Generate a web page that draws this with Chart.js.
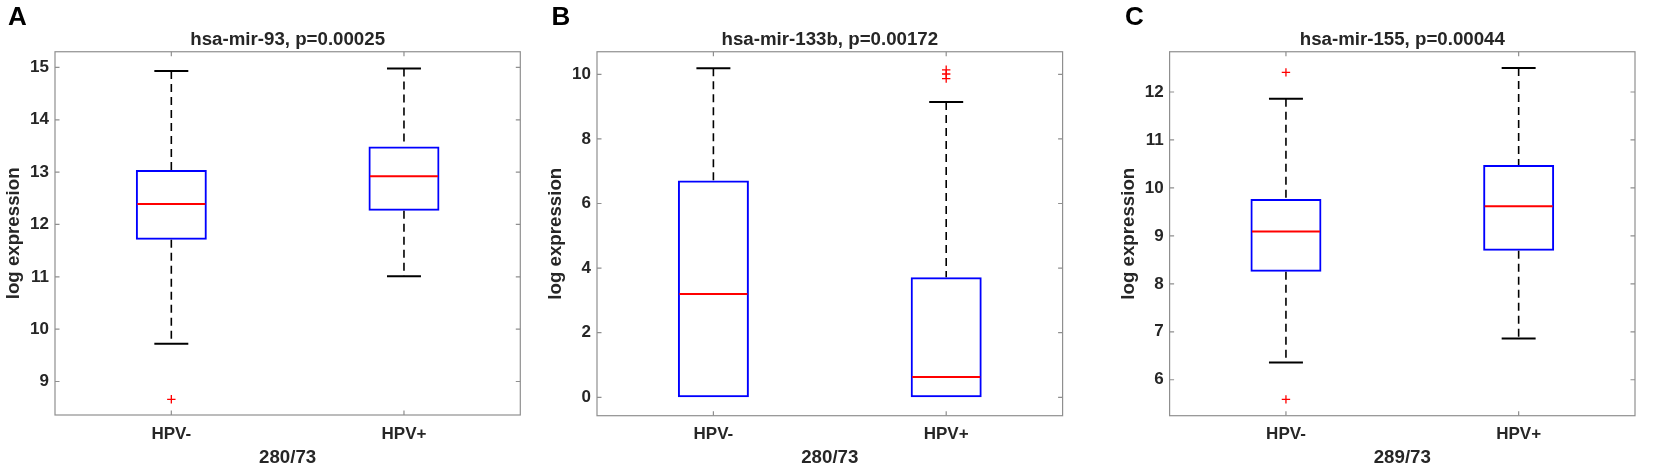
<!DOCTYPE html>
<html>
<head>
<meta charset="utf-8">
<script src="https://cdn.jsdelivr.net/npm/chart.js@4"></script>
<style>
  html, body { margin: 0; padding: 0; background: #ffffff; }
  #fig { position: relative; width: 1654px; height: 469px; overflow: hidden; background: #ffffff; }
  canvas { position: absolute; top: 0; }
  .letter { position: absolute; top: 3px; font-family: "Liberation Sans", Arial, Helvetica, sans-serif;
            font-weight: bold; font-size: 26px; line-height: 1; color: #000; }
</style>
</head>
<body>
<div id="fig"></div>
<script>
// ---------------- data ----------------
const categories = ['HPV-', 'HPV+'];
const panelLetters = ['A', 'B', 'C'];
const panelTitles = ['hsa-mir-93, p=0.00025', 'hsa-mir-133b, p=0.00172', 'hsa-mir-155, p=0.00044'];
const xAxisTitles = ['280/73', '280/73', '289/73'];
const yAxisTitle = 'log expression';
const yMins = [8.36, -0.57, 5.25];
const yMaxs = [15.30, 10.70, 12.84];
const yTickSteps = [1, 2, 1];

// box statistics per panel: [HPV-, HPV+]
const lowerWhiskers = [[9.72, 11.01], [0, 0], [6.36, 6.86]];
const q1s           = [[11.71, 12.26], [0, 0], [8.25, 8.69]];
const medians       = [[12.39, 12.92], [3.20, 0.63], [9.09, 9.62]];
const q3s           = [[13.04, 13.49], [6.71, 3.72], [9.77, 10.48]];
const upperWhiskers = [[14.93, 14.98], [10.19, 9.14], [11.86, 12.50]];
const outliersNeg   = [[8.66], [], [12.41, 5.59]];
const outliersPos   = [[], [10.14, 10.01, 9.87], []];

// ---------------- layout / style (not data) ----------------
const canvasLayout = [
  { left: 0,    width: 545, padL: 3,    padR: 24.7, xAxisH: 54.0 },
  { left: 545,  width: 545, padL: 0,    padR: 27.4, xAxisH: 53.3 },
  { left: 1090, width: 564, padL: 27.6, padR: 19.0, xAxisH: 53.3 }
];
const letterLeft = [8, 551.5, 1125];
const FONT = '"Liberation Sans", Arial, Helvetica, sans-serif';
const TEXT = '#262626';
const FRAME = '#8f8f8f';

Chart.defaults.font.family = FONT;
Chart.defaults.font.weight = 'bold';
Chart.defaults.color = TEXT;

const framePlugin = {
  id: 'matlabFrame',
  afterDatasetsDraw(chart) {
    const { ctx, chartArea: ca } = chart;
    const x = chart.scales.x, y = chart.scales.y;
    const tl = 4.5;
    ctx.save();
    ctx.strokeStyle = FRAME;
    ctx.lineWidth = 1.2;
    ctx.strokeRect(ca.left, ca.top, ca.right - ca.left, ca.bottom - ca.top);
    ctx.beginPath();
    y.ticks.forEach((t, k) => {
      const py = y.getPixelForTick(k);
      ctx.moveTo(ca.left, py); ctx.lineTo(ca.left + tl, py);
      ctx.moveTo(ca.right, py); ctx.lineTo(ca.right - tl, py);
    });
    x.ticks.forEach((t, k) => {
      const px = x.getPixelForTick(k);
      ctx.moveTo(px, ca.bottom); ctx.lineTo(px, ca.bottom - tl);
      ctx.moveTo(px, ca.top); ctx.lineTo(px, ca.top + tl);
    });
    ctx.stroke();
    ctx.restore();
  }
};

const boxplotPlugin = {
  id: 'boxplot',
  afterDatasetsDraw(chart, args, opts) {
    const p = opts.panel;
    const { ctx } = chart;
    const x = chart.scales.x, y = chart.scales.y;
    const step = x.getPixelForValue(1) - x.getPixelForValue(0);
    const boxHalf = step * opts.boxWidth / 2;
    const capHalf = step * opts.capWidth / 2;
    categories.forEach((c, i) => {
      const cx = x.getPixelForValue(i);
      const pQ1 = y.getPixelForValue(q1s[p][i]);
      const pQ3 = y.getPixelForValue(q3s[p][i]);
      const pLw = y.getPixelForValue(lowerWhiskers[p][i]);
      const pUw = y.getPixelForValue(upperWhiskers[p][i]);
      const pMed = y.getPixelForValue(medians[p][i]);
      ctx.save();
      // dashed whiskers
      ctx.strokeStyle = '#000000';
      ctx.lineWidth = 1.6;
      ctx.setLineDash([8, 5]);
      ctx.beginPath();
      if (upperWhiskers[p][i] > q3s[p][i]) { ctx.moveTo(cx, pUw); ctx.lineTo(cx, pQ3); }
      if (lowerWhiskers[p][i] < q1s[p][i]) { ctx.moveTo(cx, pQ1); ctx.lineTo(cx, pLw); }
      ctx.stroke();
      // caps
      ctx.setLineDash([]);
      ctx.lineWidth = 2;
      ctx.beginPath();
      if (upperWhiskers[p][i] > q3s[p][i]) { ctx.moveTo(cx - capHalf, pUw); ctx.lineTo(cx + capHalf, pUw); }
      if (lowerWhiskers[p][i] < q1s[p][i]) { ctx.moveTo(cx - capHalf, pLw); ctx.lineTo(cx + capHalf, pLw); }
      ctx.stroke();
      // median
      ctx.strokeStyle = '#ff0000';
      ctx.lineWidth = 2;
      ctx.beginPath();
      ctx.moveTo(cx - boxHalf + 1.5, pMed); ctx.lineTo(cx + boxHalf - 1.5, pMed);
      ctx.stroke();
      ctx.restore();
    });
  }
};

const fig = document.getElementById('fig');

panelLetters.forEach((letter, p) => {
  const L = canvasLayout[p];
  const lab = document.createElement('div');
  lab.className = 'letter';
  lab.style.left = letterLeft[p] + 'px';
  lab.textContent = letter;

  const cv = document.createElement('canvas');
  cv.width = L.width; cv.height = 469;
  cv.style.left = L.left + 'px';
  cv.style.width = L.width + 'px'; cv.style.height = '469px';
  fig.appendChild(cv);
  fig.appendChild(lab);

  const outlierPoints = [];
  outliersNeg[p].forEach(v => outlierPoints.push({ x: categories[0], y: v }));
  outliersPos[p].forEach(v => outlierPoints.push({ x: categories[1], y: v }));

  new Chart(cv.getContext('2d'), {
    type: 'bar',
    data: {
      labels: categories,
      datasets: [
        {
          type: 'bar',
          data: categories.map((c, i) => [q1s[p][i], q3s[p][i]]),
          backgroundColor: 'rgba(0,0,0,0)',
          borderColor: '#0000ff',
          borderWidth: 2,
          borderSkipped: false,
          barPercentage: 0.305,
          categoryPercentage: 1.0
        },
        {
          type: 'line',
          data: outlierPoints,
          showLine: false,
          pointStyle: 'cross',
          pointRadius: 4.2,
          pointHoverRadius: 4.2,
          pointBorderColor: '#ff0000',
          pointBackgroundColor: '#ff0000',
          pointBorderWidth: 1.3,
          borderColor: '#ff0000'
        }
      ]
    },
    options: {
      responsive: false,
      animation: false,
      events: [],
      layout: { padding: { left: L.padL, right: L.padR, top: 0, bottom: 0 } },
      plugins: {
        legend: { display: false },
        tooltip: { enabled: false },
        title: {
          display: true,
          text: panelTitles[p],
          fullSize: false,
          color: TEXT,
          font: { size: 18.7, weight: 'bold', lineHeight: 1.2 },
          padding: { top: 29.1, bottom: 0.2 }
        },
        boxplot: { panel: p, boxWidth: 0.305, capWidth: 0.146 }
      },
      scales: {
        x: {
          type: 'category',
          offset: true,
          grid: { display: false, drawTicks: false },
          border: { display: false },
          ticks: { color: TEXT, font: { size: 17, weight: 'bold' }, padding: p === 0 ? 9.2 : 8.5, maxRotation: 0 },
          title: { display: true, text: xAxisTitles[p], color: TEXT,
                   font: { size: 18.7, weight: 'bold', lineHeight: 1.2 }, padding: { top: 0, bottom: 0 } },
          afterFit(scale) { scale.height = L.xAxisH; }
        },
        y: {
          type: 'linear',
          min: yMins[p],
          max: yMaxs[p],
          grid: { display: false, drawTicks: false },
          border: { display: false },
          ticks: {
            stepSize: yTickSteps[p],
            includeBounds: false,
            color: TEXT,
            padding: 6,
            font: { size: 17, weight: 'bold' },
            callback: (v) => String(v)
          },
          title: { display: true, text: yAxisTitle, color: TEXT,
                   font: { size: 18.7, weight: 'bold', lineHeight: 1.2 }, padding: { top: 0, bottom: 0 } },
          afterFit(scale) { scale.width = 52; }
        }
      }
    },
    plugins: [framePlugin, boxplotPlugin]
  });
});
</script>
</body>
</html>
